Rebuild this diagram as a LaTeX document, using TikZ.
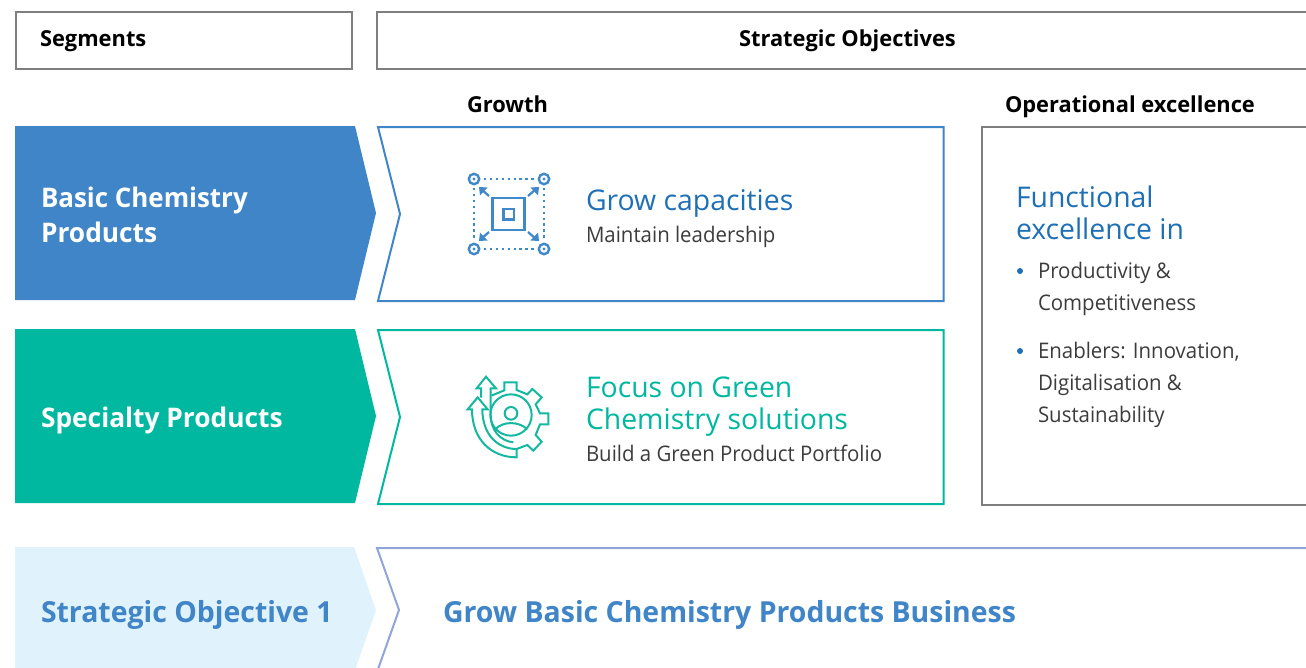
\documentclass[tikz,border=0pt]{standalone}
\usepackage{fontspec}
\setmainfont{Open Sans}
\definecolor{cblue}{HTML}{3F85C7}
\definecolor{cteal}{HTML}{00B8A0}
\definecolor{clight}{HTML}{E0F2FC}
\definecolor{cgray}{HTML}{7F7F7F}
\definecolor{ctxt}{HTML}{1F6FB5}
\definecolor{cpale}{HTML}{8FA5D8}
\definecolor{cbody}{HTML}{3C3C3C}
\definecolor{ctealline}{HTML}{13B89F}
\definecolor{clblue}{HTML}{3F88C9}
\newcommand{\xhd}[1]{\scalebox{.993}[1]{#1}}
\newcommand{\xgs}[1]{\scalebox{.975}[1]{#1}}
\newcommand{\xcs}[1]{\scalebox{.98}[1]{#1}}
\newcommand{\xbs}[1]{\scalebox{.995}[1]{#1}}
\newcommand{\xss}[1]{\scalebox{.95}[1]{#1}}
\tikzset{
  lbl/.style={anchor=base west,inner sep=0pt,outer sep=0pt},
  hd/.style={lbl,font=\fontsize{22}{22}\selectfont\bfseries,text=black},
  seg/.style={lbl,font=\fontsize{27}{27}\selectfont\bfseries,text=white},
  low/.style={lbl,font=\fontsize{29}{29}\selectfont\bfseries,text=cblue},
  big/.style={lbl,font=\fontsize{28.5}{28.5}\selectfont},
  sub/.style={lbl,font=\fontsize{21.5}{21.5}\selectfont,text=cbody},
  frame/.style={line width=2pt},
  ico/.style={line width=2pt,line join=miter}
}
\begin{document}
\begin{tikzpicture}[x=1pt,y=-1pt]
\useasboundingbox (0,0) rectangle (1306,667);
\clip (0,0) rectangle (1306,667);
% header frames
\draw[frame,draw=cgray] (16,12) rectangle (352,69);
\draw[frame,draw=cgray] (1320,12) -- (377,12) -- (377,69) -- (1320,69);
\node[hd] (segments) at (40,46) {\xhd{Segments}};
\node[hd] (objectives) at (739,46) {\xhd{Strategic Objectives}};
\node[hd] (growth) at (467,112) {\xhd{Growth}};
\node[hd] (opex) at (1005,112) {\xhd{Operational excellence}};
% segment arrows
\fill[cblue] (15,126) -- (355,126) -- (376,213) -- (355,300) -- (15,300) -- cycle;
\fill[cteal] (15,329) -- (355,329) -- (376,416) -- (355,503) -- (15,503) -- cycle;
\fill[clight] (15,547) -- (354,547) -- (376,610) -- (354,673) -- (15,673) -- cycle;
% outlined chevrons
\draw[frame,draw=cblue] (378,127) -- (943.7,127) -- (943.7,301) -- (378,301) -- (400,214) -- cycle;
\draw[frame,draw=cteal] (378,330) -- (943.7,330) -- (943.7,504) -- (378,504) -- (400,417) -- cycle;
\draw[frame,draw=cpale] (1320,548) -- (377,548) -- (399,610) -- (377,672) -- (1320,672);
\draw[frame,draw=cgray] (1320,127) -- (982,127) -- (982,505) -- (1320,505);
% segment labels
\node[seg] (basic1) at (41,207) {\scalebox{.96}[1]{Basic Chemistry}};
\node[seg] (basic2) at (41,242) {\xgs{Products}};
\node[seg] (spec) at (41,427) {\xgs{Specialty Products}};
\node[low] (so1) at (41,622) {\xcs{Strategic Objective 1}};
\node[low] (grow) at (443,622) {\xcs{Grow Basic Chemistry Products Business}};
% growth texts
\node[big,text=ctxt] (cap) at (586,210) {\xbs{Grow capacities}};
\node[sub] (lead) at (586,242) {\xss{Maintain leadership}};
\node[big,text=cteal] (focus) at (586,397) {\xbs{Focus on Green}};
\node[big,text=cteal] (chem) at (586,429) {\xbs{Chemistry solutions}};
\node[sub] (port) at (586,461) {\xss{Build a Green Product Portfolio}};
% operational
\node[big,text=ctxt] (func) at (1016,207) {\xbs{Functional}};
\node[big,text=ctxt] (exc) at (1016,239) {\xbs{excellence in}};
\fill[ctxt] (1020,271) circle (3);
\node[sub] (prod) at (1038,278) {\xss{Productivity \&}};
\node[sub] (comp) at (1038,310) {\xss{Competitiveness}};
\fill[ctxt] (1020,351) circle (3);
\node[sub] (en) at (1038,358) {\xss{Enablers: Innovation,}};
\node[sub] (dig) at (1038,390) {\xss{Digitalisation \&}};
\node[sub] (sus) at (1038,422) {\xss{Sustainability}};
% expand icon
\begin{scope}[draw=clblue,line width=2.4pt]
\foreach \p in {(474,179),(544,179),(474,249),(544,249)}{
  \draw \p circle (5.2);
  \fill[clblue] \p circle (1.6);
}
\draw[line width=2.6pt,dash pattern=on 2.4pt off 3.5pt] (484,179) -- (536,179);
\draw[line width=2.6pt,dash pattern=on 2.4pt off 3.5pt] (484,249) -- (536,249);
\draw[line width=2.6pt,dash pattern=on 2.4pt off 3.5pt] (474,188) -- (474,241);
\draw[line width=2.6pt,dash pattern=on 2.4pt off 3.5pt] (544,188) -- (544,241);
\draw[line width=2.6pt] (492.7,198) rectangle (524.7,230);
\draw[line width=2.4pt] (503.5,209) rectangle (514,219.5);
\foreach \a/\b/\c/\d in {489/196/481/189,528/196/536/189,489/232/481/239,528/232/536/239}{
  \draw[line width=2.2pt] (\a,\b) -- (\c,\d);
}
\fill[clblue] (479,187) -- (487.5,187.5) -- (480,195.5) -- cycle;
\fill[clblue] (539,187) -- (530.5,187.5) -- (538,195.5) -- cycle;
\fill[clblue] (479,241) -- (487.5,240.5) -- (480,232.5) -- cycle;
\fill[clblue] (539,241) -- (530.5,240.5) -- (538,232.5) -- cycle;
\end{scope}
% gear icon, drawn in zoom units
\begin{scope}[shift={(450,365)},x=.3333pt,y=-.3333pt,draw=ctealline,ico]
% gear outline, running into the lower arrow
\draw (124,92) -- (163,76) -- (163,52) -- (200,52) -- (200,75) -- (232,88) -- (247,72) -- (275,97) -- (257,118) -- (270,145) -- (295,145) -- (295,178) -- (270,178) -- (257,210) -- (275,230) -- (250,257) -- (232,240) -- (200,252) -- (200,277) .. controls (125,277) and (66,225) .. (66,133) -- (53,133) -- (83,97) -- (113,133) -- (97,133) .. controls (97,205) and (140,252) .. (200,252);
\draw (183,150) circle (62);
\draw (183,145) circle (19);
\draw (135,193) .. controls (160,168) and (206,168) .. (232,193);
% upper arrow
\draw (93,98) -- (93,70) -- (80,70) -- (108,35) -- (138,70) -- (122,70) -- (122,150) .. controls (122,195) and (150,228) .. (190,232);
\end{scope}
\end{tikzpicture}
\end{document}
